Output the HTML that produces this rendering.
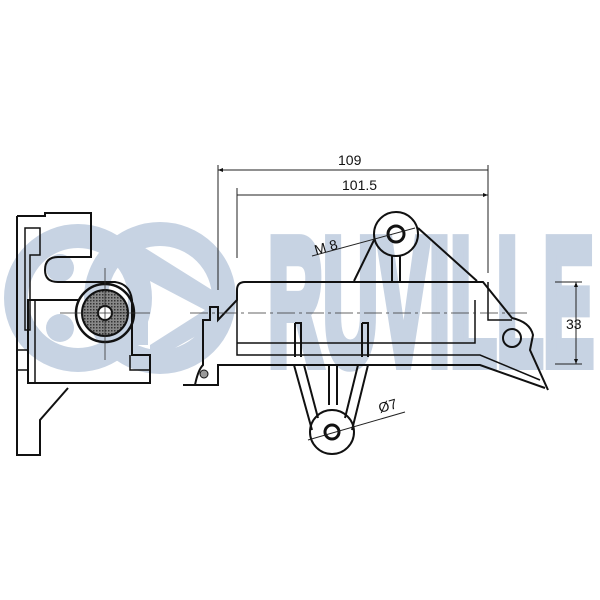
<!DOCTYPE html>
<html><head><style>html,body{margin:0;padding:0;background:#fff}svg{display:block}</style></head>
<body>
<svg width="600" height="600" viewBox="0 0 600 600" xmlns="http://www.w3.org/2000/svg" font-family="Liberation Sans, sans-serif">
<defs>
<marker id="a" viewBox="0 0 10 10" refX="10" refY="5" markerWidth="8" markerHeight="5" orient="auto-start-reverse"><path d="M0,1L10,5L0,9z" fill="#111"/></marker>
<pattern id="h" width="3" height="3" patternUnits="userSpaceOnUse"><rect width="3" height="3" fill="#888"/><rect width="1.5" height="1.5" fill="#333"/></pattern>
</defs>
<g fill="none" stroke="#c7d3e3">
<circle cx="78" cy="298" r="62" stroke-width="24"/>
<circle cx="160" cy="298" r="64" stroke-width="24"/>
</g>
<g fill="#c7d3e3">
<path d="M132,252 L132,345 L148,345 L148,280 L205,310 L150,345 L150,362 L228,318 L228,300 L145,248 Z"/>
<circle cx="60" cy="268" r="14"/><circle cx="60" cy="328" r="14"/>
</g>
<g fill="#c7d3e3" stroke="#c7d3e3" stroke-width="12" stroke-linejoin="miter" font-size="180" font-weight="bold" font-family="Liberation Sans, sans-serif">
<text x="268" y="364" textLength="326" lengthAdjust="spacingAndGlyphs">RUVILLE</text>
</g>
<g fill="none" stroke="#111" stroke-width="2">
<path d="M17,216 L45,216 L45,213 L91,213 L91,257 L58,257 Q45,257 45,270 Q45,282 58,282 L115,282 Q130,284 132,300 L132,355 L150,355 L150,383 L28,383 L28,300 L80,300"/>
<path d="M17,216 L17,455 L40,455 L40,420 L68,388"/>
<path d="M25,228 L40,228 L40,255 L30,255 L30,330 L25,330Z" stroke-width="1.5"/>
<path d="M17,350 L28,350 M17,370 L28,370 M35,300 L35,383 M130,355 L130,370 L150,370" stroke-width="1.5"/>
<path d="M183,385 L195,385 Q198,370 203,365 L203,320 L210,320 L210,307 L218,307 L218,320 L237,300 L237,290 Q237,282 245,282 L483,282 L512,318 Q530,322 533,335 L530,350 L548,390"/>
<path d="M183,385 L218,385 L218,365 L480,365 L545,388"/>
<path d="M237,300 L237,355 L480,355 L540,380" stroke-width="1.5"/>
<path d="M237,343 L475,343 L475,300" stroke-width="1.5"/>
<path d="M488,282 L488,320 L512,320" stroke-width="1.5"/>
<circle cx="396" cy="234" r="22"/>
<circle cx="396" cy="234" r="8" stroke-width="3"/>
<path d="M354,281 L375,238 M418,228 L477,281 M392,256 L392,282 M400,256 L400,282"/>
<circle cx="332" cy="432" r="22"/>
<circle cx="332" cy="432" r="7" stroke-width="3"/>
<path d="M294,365 L312,430 M304,365 L318,418 M368,365 L352,430 M358,365 L345,418 M329,365 L329,405 M337,365 L337,405"/>
<path d="M295,323 L301,323 L301,357 M295,323 L295,357 M362,323 L368,323 L368,357 M362,323 L362,357"/>
<circle cx="512" cy="338" r="9"/>
</g>
<circle cx="105" cy="313" r="29" fill="none" stroke="#111" stroke-width="2.5"/>
<circle cx="105" cy="313" r="23" fill="url(#h)" stroke="#111" stroke-width="2"/>
<circle cx="105" cy="313" r="7" fill="#fff" stroke="#111" stroke-width="2"/>
<circle cx="204" cy="374" r="4" fill="#999" stroke="#111"/>
<g stroke="#333" stroke-width="0.8">
<path d="M60,313 L150,313 M105,268 L105,360" />
<path d="M190,313 L530,313" stroke-dasharray="18,4,3,4"/>
</g>
<g stroke="#222" stroke-width="1" fill="none">
<path d="M218,165 L218,290 M237,188 L237,258 M488,165 L488,273"/>
<path d="M218,170 L488,170 M237,195 L488,195" marker-start="url(#a)" marker-end="url(#a)"/>
<path d="M555,282 L582,282 M555,364 L582,364"/>
<path d="M576,282 L576,364" marker-start="url(#a)" marker-end="url(#a)"/>
<path d="M312,256 L415,228 M308,440 L405,412"/>
</g>
<g fill="#111" font-size="14">
<text x="338" y="165">109</text>
<text x="342" y="190">101.5</text>
<text x="566" y="329">33</text>
<text x="316" y="255" transform="rotate(-16 316 255)">M 8</text>
<text x="380" y="413" transform="rotate(-16 380 413)">Ø7</text>
</g>
</svg>
</body></html>
